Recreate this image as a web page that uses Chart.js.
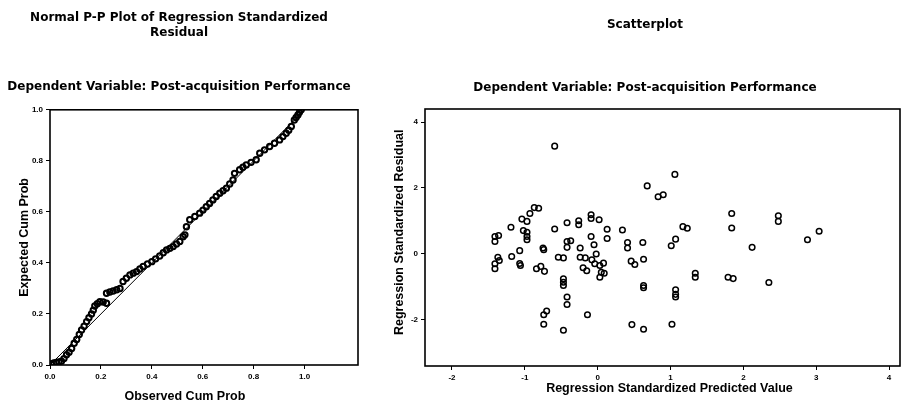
<!DOCTYPE html>
<html>
<head>
<meta charset="utf-8">
<script src="https://cdn.jsdelivr.net/npm/chart.js@4"></script>
<style>
  body { margin: 0; background: #fff; }
  canvas { position: absolute; top: 0; }
</style>
</head>
<body>
<canvas id="ppPlot" width="380" height="406" style="left:0"></canvas>
<canvas id="scatterPlot" width="521" height="406" style="left:380px"></canvas>
<script>
// Normal P-P plot readings
const ppObserved = [
  0.005, 0.015, 0.025, 0.035, 0.045, 0.055, 0.065, 0.075, 0.085, 0.095,
  0.105, 0.115, 0.124, 0.134, 0.144, 0.153, 0.163, 0.170, 0.176, 0.186,
  0.196, 0.209, 0.222, 0.222, 0.235, 0.248, 0.262, 0.275, 0.287, 0.300,
  0.314, 0.327, 0.340, 0.353, 0.366, 0.383, 0.400, 0.415, 0.431, 0.445,
  0.458, 0.471, 0.484, 0.497, 0.510, 0.523, 0.530, 0.536, 0.549, 0.569,
  0.588, 0.601, 0.614, 0.627, 0.640, 0.653, 0.667, 0.680, 0.693, 0.706,
  0.719, 0.725, 0.745, 0.758, 0.771, 0.790, 0.810, 0.824, 0.843, 0.863,
  0.882, 0.902, 0.915, 0.928, 0.938, 0.948, 0.960, 0.967, 0.974, 0.980,
  0.987
];
const ppExpected = [
  0.005, 0.008, 0.010, 0.012, 0.015, 0.025, 0.040, 0.050, 0.065, 0.085,
  0.100, 0.120, 0.137, 0.152, 0.170, 0.185, 0.200, 0.215, 0.231, 0.240,
  0.248, 0.247, 0.242, 0.281, 0.286, 0.290, 0.295, 0.300, 0.327, 0.340,
  0.353, 0.360, 0.366, 0.376, 0.386, 0.396, 0.405, 0.416, 0.427, 0.440,
  0.451, 0.457, 0.464, 0.474, 0.484, 0.503, 0.510, 0.542, 0.569, 0.582,
  0.595, 0.607, 0.620, 0.633, 0.647, 0.660, 0.673, 0.683, 0.693, 0.709,
  0.725, 0.751, 0.765, 0.775, 0.784, 0.794, 0.804, 0.830, 0.843, 0.856,
  0.869, 0.882, 0.895, 0.908, 0.920, 0.935, 0.960, 0.970, 0.980, 0.990,
  1.000
];
const ppTicks = [0, 0.2, 0.4, 0.6, 0.8, 1.0];

// Scatterplot readings: standardized predicted value vs standardized residual
const predicted = [
  -0.59, -1.41, -1.36, -1.41, -1.19, -1.04, -0.97, -0.93, -0.87, -0.81,
  -1.02, -0.97, -0.97, -0.97, -0.59, -1.37, -1.35, -1.41, -1.41, -1.18,
  -1.07, -1.07, -1.06, -0.75, -0.74, -0.84, -0.78, -0.73, -0.70, -0.74,
  -0.74,
  1.06, 0.68, 0.83, 0.90, -0.42, -0.26, -0.26, -0.09, -0.09, 0.02,
  0.13, 0.13, 0.34, 0.41, 0.41, 0.62, -0.42, -0.37, -0.42, -0.09,
  -0.05, -0.24, -0.24, -0.17, -0.54, -0.47, -0.02, -0.08, -0.04, 0.03,
  0.08, -0.20, -0.15, 0.05, 0.09, 0.03, 0.46, 0.51, 0.63, 1.01,
  1.07, -0.47, -0.47, -0.47, 0.63, 0.63, 1.07, 1.07, 1.07, -0.42,
  -0.42, -0.14, -0.47, 0.47, 0.63, 1.02,
  1.84, 1.84, 1.17, 1.23, 2.48, 2.48, 3.04, 2.88, 2.12, 1.34,
  1.34, 1.79, 1.86, 2.35
];
const residual = [
  3.27, 0.52, 0.55, 0.37, 0.80, 1.05, 0.98, 1.22, 1.40, 1.38,
  0.70, 0.65, 0.52, 0.42, 0.75, -0.11, -0.21, -0.31, -0.46, -0.09,
  0.09, -0.30, -0.36, 0.17, 0.12, -0.46, -0.39, -0.54, -1.75, -1.86,
  -2.15,
  2.41, 2.06, 1.73, 1.79, 0.94, 1.00, 0.88, 1.18, 1.07, 1.03,
  0.74, 0.46, 0.72, 0.34, 0.17, 0.34, 0.37, 0.39, 0.19, 0.52,
  0.27, 0.17, -0.11, -0.13, -0.11, -0.13, -0.01, -0.19, -0.31, -0.36,
  -0.29, -0.43, -0.52, -0.57, -0.60, -0.72, -0.23, -0.33, -0.17, 0.24,
  0.44, -0.77, -0.87, -0.97, -0.97, -1.04, -1.10, -1.24, -1.32, -1.32,
  -1.55, -1.86, -2.33, -2.16, -2.30, -2.15,
  1.22, 0.78, 0.82, 0.77, 1.15, 0.98, 0.68, 0.42, 0.19, -0.60,
  -0.72, -0.72, -0.76, -0.88
];
const predictedTicks = [-2, -1, 0, 1, 2, 3, 4];
const residualTicks = [-2, 0, 2, 4];

const titleFont = { family: "DejaVu Sans", size: 12, weight: "bold", lineHeight: 1.2 };
const axisFont = { family: "Liberation Sans", size: 12.5, weight: "bold", lineHeight: 1.2 };
const tickFont = { family: "Liberation Sans", size: 8, weight: "bold" };

// box around the plot area
const frame = {
  id: "frame",
  afterDatasetsDraw(chart) {
    const a = chart.chartArea;
    const ctx = chart.ctx;
    ctx.save();
    ctx.strokeStyle = "#000";
    ctx.lineWidth = 1.6;
    ctx.strokeRect(a.left, a.top, a.right - a.left, a.bottom - a.top);
    ctx.restore();
  }
};

function axis(min, max, ticks, fmt, size, title, titlePad) {
  return {
    type: "linear",
    min: min,
    max: max,
    afterBuildTicks: s => { s.ticks = ticks.map(v => ({ value: v })); },
    afterFit: s => {
      if (s.isHorizontal()) {
        s.height = size;
        s.paddingLeft = 0;
        s.paddingRight = 0;
      } else {
        s.width = size;
      }
    },
    ticks: { font: tickFont, color: "#000", padding: 3, callback: fmt, autoSkip: false, maxRotation: 0 },
    grid: { drawOnChartArea: false, tickLength: 4, color: "#000", lineWidth: 1 },
    border: { display: false },
    title: { display: true, text: title, font: axisFont, color: "#000", padding: titlePad }
  };
}

const pointStyle = {
  pointRadius: 2.8,
  pointBorderWidth: 1.5,
  pointBackgroundColor: "rgba(0,0,0,0)",
  pointBorderColor: "#000"
};

new Chart(document.getElementById("ppPlot"), {
  type: "scatter",
  data: {
    datasets: [
      {
        data: ppObserved.map((x, i) => ({ x: x, y: ppExpected[i] })),
        ...pointStyle,
        pointRadius: 2.7,
        pointBorderWidth: 2
      },
      {
        data: [{ x: 0, y: 0 }, { x: 1, y: 1 }],
        showLine: true,
        borderColor: "#000",
        borderWidth: 1,
        pointRadius: 0
      }
    ]
  },
  options: {
    responsive: false,
    animation: false,
    layout: { autoPadding: false, padding: { left: 0, right: 22, top: 0, bottom: 0 } },
    plugins: {
      legend: { display: false },
      tooltip: { enabled: false },
      title: {
        display: true,
        text: ["Normal P-P Plot of Regression Standardized", "Residual"],
        font: titleFont,
        color: "#000",
        padding: { top: 10.8, bottom: 0 }
      },
      subtitle: {
        display: true,
        text: "Dependent Variable: Post-acquisition Performance",
        font: titleFont,
        color: "#000",
        padding: { top: 40.5, bottom: 15.3 }
      }
    },
    scales: {
      x: axis(0, 1.21, ppTicks, v => v.toFixed(1), 41,
        "Observed Cum Prob           ", { top: 0, bottom: 1.5 }),
      y: axis(0, 1, ppTicks, v => v.toFixed(1), 50,
        "Expected Cum Prob", { top: 17.5, bottom: 0 })
    }
  },
  plugins: [frame]
});

new Chart(document.getElementById("scatterPlot"), {
  type: "scatter",
  data: {
    datasets: [
      {
        data: predicted.map((x, i) => ({ x: x, y: residual[i] })),
        ...pointStyle
      }
    ]
  },
  options: {
    responsive: false,
    animation: false,
    layout: { autoPadding: false, padding: { left: 10, right: 1, top: 0, bottom: 0 } },
    plugins: {
      legend: { display: false },
      tooltip: { enabled: false },
      title: {
        display: true,
        text: "Scatterplot",
        font: titleFont,
        color: "#000",
        padding: { top: 17.8, bottom: 0 }
      },
      subtitle: {
        display: true,
        text: "Dependent Variable: Post-acquisition Performance",
        font: titleFont,
        color: "#000",
        padding: { top: 48.1, bottom: 14.3 }
      }
    },
    scales: {
      x: axis(-2.37, 4.15, predictedTicks, v => String(v), 40,
        "    Regression Standardized Predicted Value", { top: 0, bottom: 9.5 }),
      y: axis(-3.42, 4.4, residualTicks, v => String(v), 35,
        "   Regression Standardized Residual", { top: 2.5, bottom: 0 })
    }
  },
  plugins: [frame]
});
</script>
</body>
</html>
